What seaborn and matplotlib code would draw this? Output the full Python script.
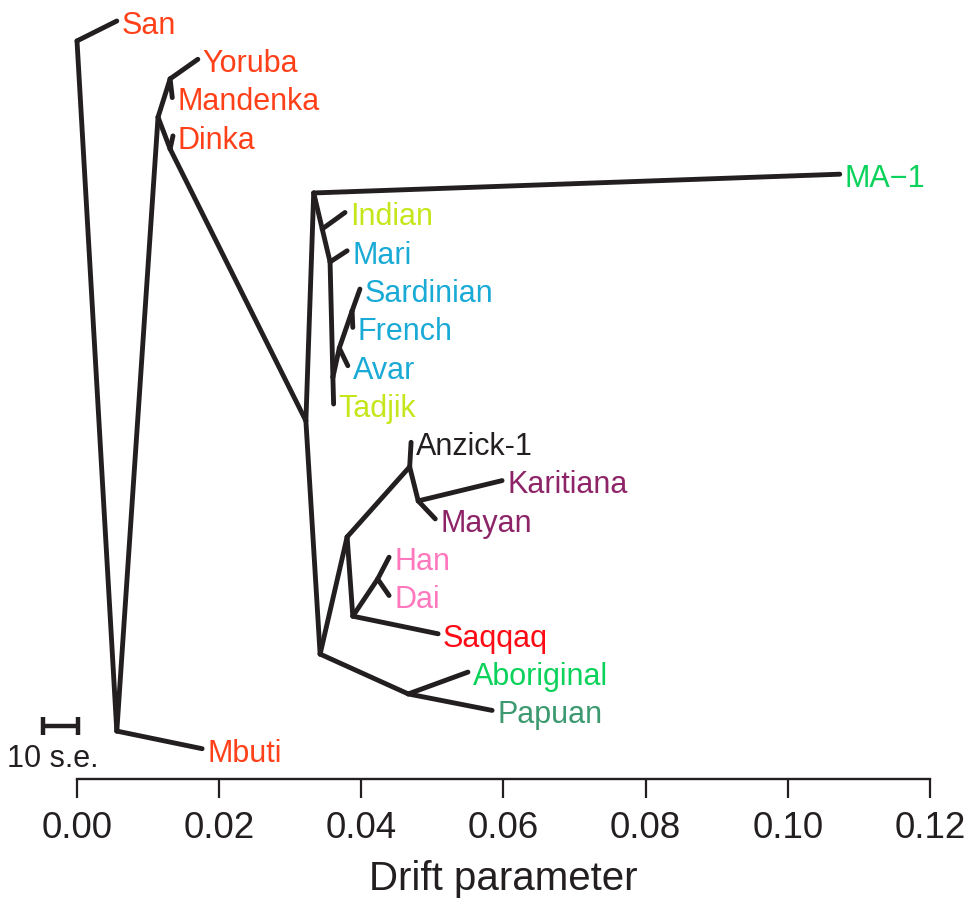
import matplotlib
matplotlib.use("Agg")
import matplotlib.pyplot as plt
import seaborn as sns
import pandas as pd

# ---- data ----
leaf_names = ["San", "Yoruba", "Mandenka", "Dinka", "MA\u22121", "Indian", "Mari",
              "Sardinian", "French", "Avar", "Tadjik", "Anzick-1", "Karitiana",
              "Mayan", "Han", "Dai", "Saqqaq", "Aboriginal", "Papuan", "Mbuti"]
leaf_drift = [0.0056, 0.0170, 0.0134, 0.0135, 0.1073, 0.0377, 0.0380,
              0.0398, 0.0388, 0.0381, 0.0361, 0.0470, 0.0598,
              0.0504, 0.0439, 0.0439, 0.0508, 0.0550, 0.0584, 0.0176]
leaf_pos = list(range(20))
leaf_colors = ["#FF4019", "#FF4019", "#FF4019", "#FF4019", "#0AD25A", "#C5E61A", "#1AAAD6",
               "#1AAAD6", "#1AAAD6", "#1AAAD6", "#C5E61A", "#231F20", "#8E2468",
               "#8E2468", "#FF78BE", "#FF78BE", "#FF0A14", "#0AD25A", "#3D9970", "#FF4019"]

node_names = ["root", "n1", "n2", "n3", "n5", "n6", "n7", "n8", "n9", "n10",
              "neur", "nsf", "n11", "n12", "n13", "n14", "n15", "n16", "n17"]
node_drift = [0.0000, 0.0056, 0.0114, 0.0131, 0.0131, 0.0322, 0.0333, 0.0345, 0.0356, 0.0360,
              0.0369, 0.0387, 0.0342, 0.0380, 0.0468, 0.0480, 0.0388, 0.0423, 0.0466]
node_pos = [0.52, 18.54, 2.51, 1.51, 3.34, 10.44, 4.49, 5.43, 6.29, 9.30,
            8.54, 7.57, 16.53, 13.47, 11.64, 12.53, 15.54, 14.57, 17.57]

edge_parent = ["root", "root", "n1", "n1", "n2", "n3", "n3", "n2", "n5", "n5",
               "n6", "n7", "n7", "n8", "n8", "n9", "n9", "n10", "n10", "neur",
               "neur", "nsf", "nsf", "n6", "n11", "n12", "n13", "n13", "n14", "n14",
               "n12", "n15", "n15", "n16", "n16", "n11", "n17", "n17"]
edge_child = ["San", "n1", "Mbuti", "n2", "n3", "Yoruba", "Mandenka", "n5", "Dinka", "n6",
              "n7", "MA\u22121", "n8", "Indian", "n9", "Mari", "n10", "Tadjik", "neur", "Avar",
              "nsf", "Sardinian", "French", "n11", "n12", "n13", "Anzick-1", "n14", "Karitiana", "Mayan",
              "n15", "Saqqaq", "n16", "Han", "Dai", "n17", "Aboriginal", "Papuan"]

se_bar_length = 0.0049          # 10 s.e.
tick_values = [0.00, 0.02, 0.04, 0.06, 0.08, 0.10, 0.12]
tick_labels = ["0.00", "0.02", "0.04", "0.06", "0.08", "0.10", "0.12"]

# ---- build segments ----
coords = {n: (d, p) for n, d, p in zip(leaf_names, leaf_drift, leaf_pos)}
coords.update({n: (d, p) for n, d, p in zip(node_names, node_drift, node_pos)})
rows = []
for i, (a, b) in enumerate(zip(edge_parent, edge_child)):
    for n in (a, b):
        rows.append({"edge": i, "drift": coords[n][0], "pos": coords[n][1]})
seg = pd.DataFrame(rows)

sns.set_style("white")
plt.rcParams["font.family"] = ["Liberation Sans", "DejaVu Sans"]

W, H = 969, 904
fig = plt.figure(figsize=(W / 100, H / 100), dpi=100)
ax = fig.add_axes([0, 124 / H, 1, 780 / H])

line_col = "#231F20"
sns.lineplot(data=seg, x="drift", y="pos", units="edge", estimator=None, sort=False,
             color=line_col, linewidth=3.5, solid_capstyle="round", ax=ax, legend=False)

for name, d, p, c in zip(leaf_names, leaf_drift, leaf_pos, leaf_colors):
    ax.text(d + 0.0007, p + 0.1, name, color=c, fontsize=22, va="center", ha="left")

# scale bar
x0, yb = -0.0048, 18.41
ax.plot([x0, x0 + se_bar_length], [yb, yb], color=line_col, lw=3.2, solid_capstyle="butt")
for xx in (x0, x0 + se_bar_length):
    ax.plot([xx, xx], [yb - 0.23, yb + 0.23], color=line_col, lw=3.2, solid_capstyle="butt")
ax.text(x0 + se_bar_length / 2 - 0.0010, 19.25, "10 s.e.", color=line_col,
        fontsize=22, ha="center", va="center")

# axes
px_per_unit = 853 / 0.12
ax.set_xlim(-77 / px_per_unit, (W - 77) / px_per_unit)
ax.set_ylim((780 - 22) / 38.3, -22 / 38.3)
for s in ["top", "right", "left"]:
    ax.spines[s].set_visible(False)
ax.spines["bottom"].set_bounds(0, 0.12)
ax.spines["bottom"].set_linewidth(1.7)
ax.spines["bottom"].set_color(line_col)
ax.set_yticks([])
ax.set_ylabel("")
ax.set_xticks(tick_values)
ax.set_xticklabels(tick_labels)
ax.tick_params(axis="x", direction="out", length=14, width=1.6, pad=8,
               labelsize=26.5, colors=line_col, bottom=True)
ax.set_xlabel("Drift parameter", fontsize=29, color=line_col)
ax.xaxis.set_label_coords(503 / W, -80 / 780)

fig.savefig("out.png", dpi=100)
